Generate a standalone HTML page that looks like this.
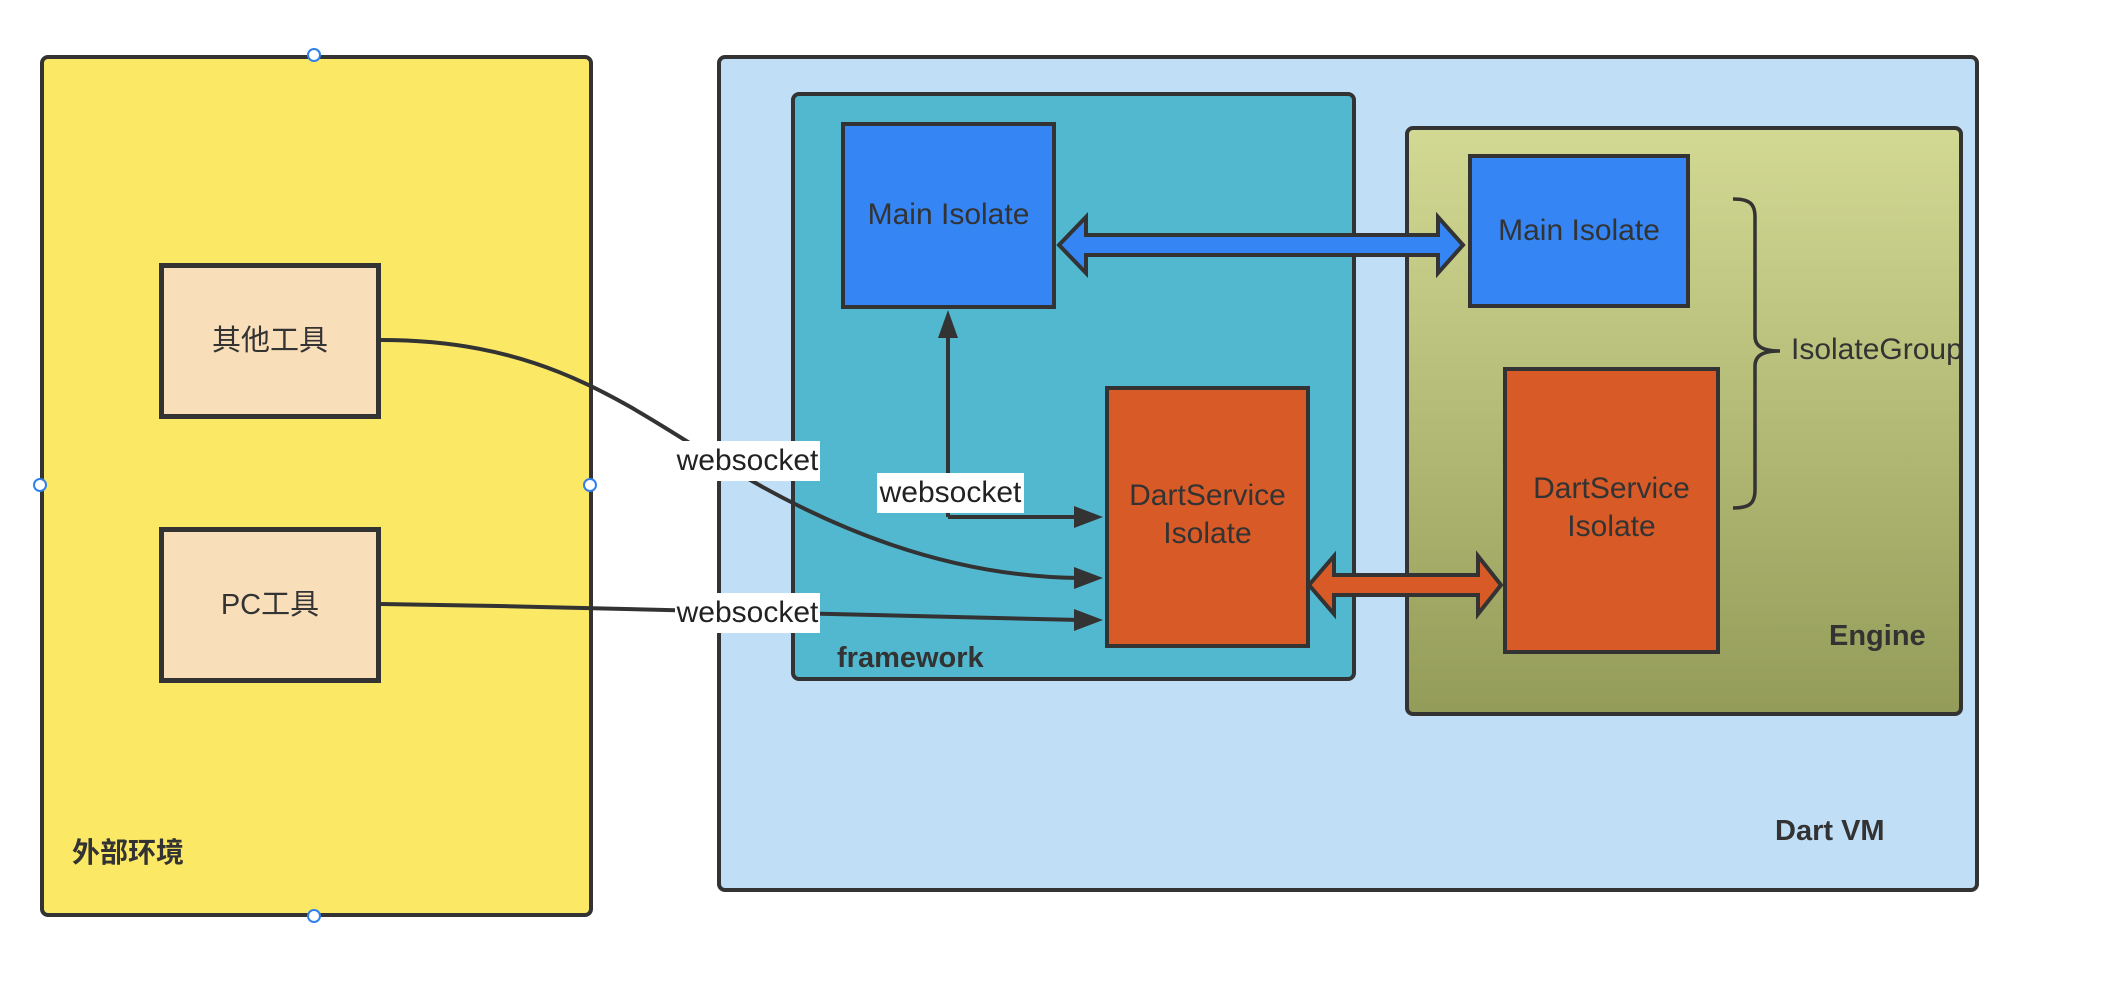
<!DOCTYPE html>
<html><head><meta charset="utf-8"><style>
html,body{margin:0;padding:0;background:#fff;}
body{width:2116px;height:998px;position:relative;overflow:hidden;font-family:"Liberation Sans","Noto Sans CJK SC",sans-serif;color:#333;}
.b{position:absolute;box-sizing:border-box;border:4px solid #333;}
.t{position:absolute;white-space:nowrap;}
.c{display:flex;align-items:center;justify-content:center;text-align:center;font-size:30px;line-height:38px;}
.lbl{position:absolute;background:#fff;font-size:30px;line-height:40px;text-align:center;color:#222;}
.h{position:absolute;width:14px;height:14px;border:2px solid #2f80ed;background:#fff;border-radius:50%;box-sizing:border-box;}
</style></head><body>
<div class="b" style="left:40px;top:55px;width:553px;height:862px;background:#fbe864;border-radius:8px;"></div>
<div class="b c" style="left:159px;top:263px;width:222px;height:156px;background:#f8deb9;border-width:5px;font-size:29px;">其他工具</div>
<div class="b c" style="left:159px;top:527px;width:222px;height:156px;background:#f8deb9;border-width:5px;font-size:29px;">PC工具</div>
<div class="t" style="left:72px;top:831px;font-size:28px;font-weight:bold;">外部环境</div>

<div class="b" style="left:717px;top:55px;width:1262px;height:837px;background:#c0dff6;border-radius:8px;"></div>
<div class="b" style="left:791px;top:92px;width:565px;height:589px;background:#51b8d0;border-radius:8px;"></div>
<div class="b" style="left:1405px;top:126px;width:558px;height:590px;background:linear-gradient(#d2d993,#949c59);border-radius:8px;"></div>

<div class="b c" style="left:841px;top:122px;width:215px;height:187px;background:#3585f5;align-items:flex-start;padding-top:70px;">Main Isolate</div>
<div class="b c" style="left:1468px;top:154px;width:222px;height:154px;background:#3585f5;align-items:flex-start;padding-top:54px;">Main Isolate</div>
<div class="b c" style="left:1105px;top:386px;width:205px;height:262px;background:#d85a27;align-items:flex-start;padding-top:87px;">DartService<br>Isolate</div>
<div class="b c" style="left:1503px;top:367px;width:217px;height:287px;background:#d85a27;align-items:flex-start;padding-top:99px;">DartService<br>Isolate</div>

<div class="t" style="left:837px;top:642px;font-size:29px;font-weight:bold;">framework</div>
<div class="t" style="left:1829px;top:620px;font-size:29px;font-weight:bold;">Engine</div>
<div class="t" style="left:1775px;top:815px;font-size:29px;font-weight:bold;">Dart VM</div>
<div class="t" style="left:1791px;top:333px;font-size:30px;">IsolateGroup</div>

<svg width="2116" height="998" style="position:absolute;left:0;top:0;">
<g fill="none" stroke="#333" stroke-width="4">
<path d="M381,340 C540,340 620,400 720,462 C830,530 950,577 1080,578"/>
<path d="M381,604 C600,607 800,614 1080,620"/>
<path d="M948,517 L948,330"/>
<path d="M948,517 L1080,517"/>
<path d="M1733,199 C1750,199 1755,204 1755,217 L1755,336 C1755,346 1762,351 1780,351 C1762,351 1755,356 1755,366 L1755,490 C1755,503 1750,508 1733,508" stroke-width="3.5"/>
</g>
<g fill="#333">
<path d="M948,310 L938,338 L958,338 z"/>
<path d="M1103,517 L1074,506 L1074,528 z"/>
<path d="M1103,578 L1074,567 L1074,589 z"/>
<path d="M1103,620 L1074,609 L1074,631 z"/>
</g>
<path d="M1059,245 L1086,217 L1086,235 L1438,235 L1438,217 L1463,245 L1438,273 L1438,255 L1086,255 L1086,273 z" fill="#3585f5" stroke="#333" stroke-width="4"/>
<path d="M1309,585 L1334,556 L1334,575 L1478,575 L1478,556 L1501,585 L1478,614 L1478,595 L1334,595 L1334,614 z" fill="#d85a27" stroke="#333" stroke-width="4"/>
</svg>
<div class="lbl" style="left:675px;top:441px;width:145px;">websocket</div>
<div class="lbl" style="left:877px;top:473px;width:147px;">websocket</div>
<div class="lbl" style="left:675px;top:593px;width:145px;">websocket</div>

<div class="h" style="left:307px;top:48px;"></div>
<div class="h" style="left:33px;top:478px;"></div>
<div class="h" style="left:583px;top:478px;"></div>
<div class="h" style="left:307px;top:909px;"></div>
</body></html>
